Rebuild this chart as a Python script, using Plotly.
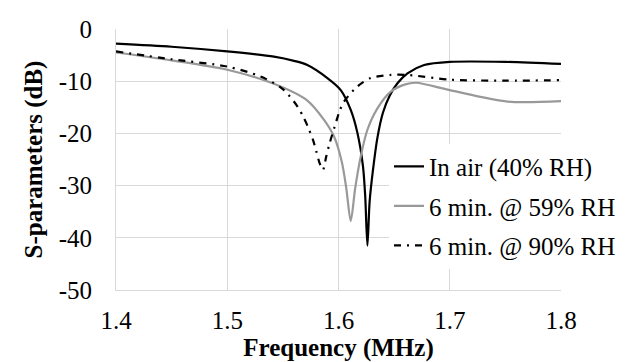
import plotly.graph_objects as go

# In air (40% RH)
freq_air = [1.400, 1.450, 1.500, 1.542, 1.560, 1.572, 1.590, 1.602, 1.611, 1.617,
            1.622, 1.624, 1.626, 1.628, 1.631, 1.635, 1.640, 1.646, 1.653, 1.662,
            1.677, 1.700, 1.750, 1.800]
s_air = [-2.8, -3.4, -4.3, -5.3, -6.1, -6.9, -9.4, -11.7, -15.5, -19.9,
         -26.3, -32.0, -41.5, -33.0, -27.0, -20.8, -16.0, -12.8, -10.4, -8.5,
         -6.9, -6.3, -6.3, -6.7]

# 6 min. @ 59% RH
freq_59 = [1.400, 1.450, 1.500, 1.542, 1.572, 1.587, 1.596, 1.603, 1.607, 1.611,
           1.615, 1.620, 1.626, 1.635, 1.647, 1.660, 1.670, 1.700, 1.752, 1.800]
s_59 = [-4.5, -6.0, -7.8, -10.5, -13.7, -17.4, -20.6, -25.5, -30.5, -36.8,
        -30.5, -24.4, -19.3, -15.2, -12.0, -10.6, -10.3, -11.7, -13.9, -13.8]

# 6 min. @ 90% RH
freq_90 = [1.400, 1.450, 1.500, 1.530, 1.550, 1.563, 1.569, 1.573, 1.577, 1.580,
           1.583, 1.586, 1.589, 1.592, 1.598, 1.601, 1.605, 1.617, 1.629, 1.647,
           1.662, 1.700, 1.750, 1.800]
s_90 = [-4.3, -5.8, -7.2, -9.1, -11.5, -14.8, -17.1, -19.0, -21.2, -23.4,
        -25.7, -27.0, -24.4, -21.9, -17.7, -15.7, -13.9, -11.0, -9.4, -8.8,
        -8.8, -9.7, -9.9, -9.8]

x_ticks = [1.4, 1.5, 1.6, 1.7, 1.8]
y_ticks = [0, -10, -20, -30, -40, -50]

FAM = "Liberation Serif"
fnt = dict(family=FAM, size=25, color="#000000")

fig = go.Figure()
fig.add_trace(go.Scatter(x=freq_air, y=s_air, mode="lines", name="In air (40% RH)",
                         legendgroup="a",
                         line=dict(color="#000000", width=2.2, shape="spline", smoothing=0.8)))
fig.add_trace(go.Scatter(x=freq_59, y=s_59, mode="lines", name="6 min. @ 59% RH",
                         legendgroup="b",
                         line=dict(color="#999999", width=2.2, shape="spline", smoothing=0.8)))
fig.add_trace(go.Scatter(x=freq_90, y=s_90, mode="lines", name="6 min. @ 90% RH",
                         legendgroup="c",
                         line=dict(color="#000000", width=2.2, shape="spline", smoothing=0.8,
                                   dash="7px,6px,2px,6px")))

fig.update_layout(
    template="none",
    width=628, height=362,
    margin=dict(l=108, r=75, t=21, b=80, autoexpand=False),
    paper_bgcolor="white", plot_bgcolor="white",
    font=fnt,
    showlegend=True,
    legend=dict(x=0.6135, xanchor="left", y=0.3215, yanchor="middle",
                bgcolor="white", borderwidth=0, tracegroupgap=4, font=fnt),
)
fig.update_xaxes(range=[1.4, 1.8], tickvals=x_ticks, ticktext=[f"{v:.1f}" for v in x_ticks],
                 tickfont=fnt,
                 showgrid=True, gridcolor="#d9d9d9", gridwidth=1,
                 showline=True, linecolor="#d9d9d9", linewidth=1, automargin=False,
                 zeroline=False, ticks="outside", ticklen=8, tickcolor="rgba(0,0,0,0)",
                 title=dict(text="<b>Frequency (MHz)</b>", standoff=4, font=fnt))
fig.update_yaxes(range=[-50, 0], tickvals=y_ticks, ticktext=[str(v) for v in y_ticks],
                 tickfont=fnt,
                 showgrid=True, gridcolor="#d9d9d9", gridwidth=1,
                 showline=True, linecolor="#d9d9d9", linewidth=1, automargin=False,
                 zeroline=False, ticks="outside", ticklen=18, tickcolor="rgba(0,0,0,0)",
                 title=dict(text="<b>S-parameters (dB)</b>", standoff=8, font=fnt))

fig.write_html("out.html")
